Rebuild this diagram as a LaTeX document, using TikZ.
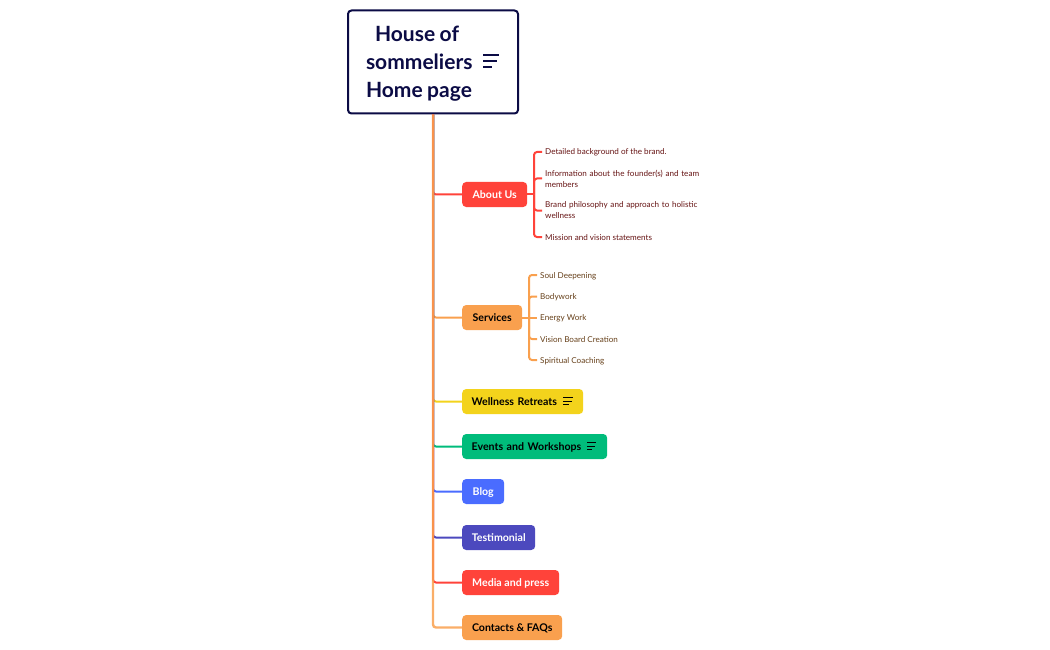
\documentclass[tikz,border=0pt]{standalone}
\usepackage{fontspec}
\setmainfont{Lato}
\definecolor{navy}{HTML}{0B0B45}
\definecolor{redc}{HTML}{FF433A}
\definecolor{orangec}{HTML}{F9A04E}
\definecolor{yellowc}{HTML}{F3D31C}
\definecolor{greenc}{HTML}{00BC7B}
\definecolor{bluec}{HTML}{4A6CFF}
\definecolor{indigoc}{HTML}{4C49BE}
\definecolor{redtext}{HTML}{661414}
\definecolor{browntext}{HTML}{66401A}
\begin{document}
\begin{tikzpicture}[x=1pt, y=-1pt,
		root/.style = {draw=navy, line width=2pt, rounded corners=3.5pt, fill=white, text=navy, align=left, text width=134pt, minimum height=103pt, inner xsep=18pt, inner ysep=0pt, font=\fontsize{21}{28}\selectfont\bfseries},
		topic/.style = {rounded corners=4pt, anchor=west, minimum height=25pt, inner xsep=9.5pt, inner ysep=0pt, text height=10pt, text depth=2pt, font=\fontsize{10.6}{14}\selectfont\bfseries},
		item/.style = {anchor=west, inner xsep=3pt, inner ysep=0pt, align=left, font=\fontsize{8.1}{11}\selectfont},
		oneline/.style = {item, text height=8pt, text depth=2pt},
		branch/.style = {line width=2pt, rounded corners=3pt},
		notemark/.style = {draw, line width=0.9pt}]
	\useasboundingbox (0,0) rectangle (1050,650);

	\node[root] (root) at (433,62) {\spaceskip=4.5pt\relax\hspace*{9pt}\rule{0pt}{19pt}House of\\sommeliers\\Home page};
	\draw[notemark, navy, line width=2pt] (483,55) -- (499,55) (483,61) -- (497,61) (483,67) -- (492,67);

	\node[topic, fill=redc, text=white, minimum width=65pt] (about) at (462,194.5) {About Us};
	\node[topic, fill=orangec, text=black, minimum width=60pt] (services) at (462,317.5) {Services};
	\node[topic, fill=yellowc, text=black, align=left, text width=102pt] (retreats) at (462,401.5) {Wellness Retreats};
	\node[topic, fill=greenc, text=black, align=left, text width=126pt] (events) at (462,446.5) {Events and Workshops};
	\node[topic, fill=bluec, text=white, minimum width=42pt] (blog) at (462,491.5) {Blog};
	\node[topic, fill=indigoc, text=white, minimum width=73pt] (testimonial) at (462,537.5) {Testimonial};
	\node[topic, fill=redc, text=white, minimum width=97pt] (media) at (462,582.5) {Media and press};
	\node[topic, fill=orangec, text=black, minimum width=100pt] (contacts) at (462,627.5) {Contacts \& FAQs};

	\draw[notemark, black] (563,397.5) -- (573,397.5) (563,401) -- (572,401) (563,404.5) -- (569,404.5);
	\draw[notemark, black] (587,442.5) -- (596,442.5) (587,446) -- (595,446) (587,449.5) -- (592,449.5);

	% about us
	\node[oneline, text=redtext] (a1) at (542,152) {Detailed background of the brand.};
	\node[item, text=redtext, text width=165pt] (a2) at (542,178.5) {Information about the founder(s) and team members};
	\node[item, text=redtext, text width=165pt] (a3) at (542,210.5) {Brand philosophy and approach to holistic wellness};
	\node[oneline, text=redtext] (a4) at (542,237) {Mission and vision statements};
	\coordinate (afork) at (534,194.5);
	\draw[branch, redc] (about.east) -- (afork);
	\draw[branch, redc] (afork) |- (a1.west);
	\draw[branch, redc] (afork) |- (a2.west);
	\draw[branch, redc] (afork) |- (a3.west);
	\draw[branch, redc] (afork) |- (a4.west);

	% services
	\node[oneline, text=browntext] (s1) at (537,275) {Soul Deepening};
	\node[oneline, text=browntext] (s2) at (537,296.5) {Bodywork};
	\node[oneline, text=browntext] (s3) at (537,317.5) {Energy Work};
	\node[oneline, text=browntext] (s4) at (537,339) {Vision Board Creation};
	\node[oneline, text=browntext] (s5) at (537,360) {Spiritual Coaching};
	\coordinate (sfork) at (529,317.5);
	\draw[branch, orangec] (services.east) -- (s3.west);
	\draw[branch, orangec] (sfork) |- (s1.west);
	\draw[branch, orangec] (sfork) |- (s2.west);
	\draw[branch, orangec] (sfork) |- (s4.west);
	\draw[branch, orangec] (sfork) |- (s5.west);

	% trunk
	\draw[branch, redc] (root.south) |- (about.west);
	\draw[branch, orangec] (root.south) |- (services.west);
	\draw[branch, yellowc] (root.south) |- (retreats.west);
	\draw[branch, greenc] (root.south) |- (events.west);
	\draw[branch, bluec] (root.south) |- (blog.west);
	\draw[branch, indigoc] (root.south) |- (testimonial.west);
	\draw[branch, redc] (root.south) |- (media.west);
	\draw[branch, orangec, line width=2.4pt, opacity=.85] (root.south) |- (contacts.west);
\end{tikzpicture}
\end{document}
